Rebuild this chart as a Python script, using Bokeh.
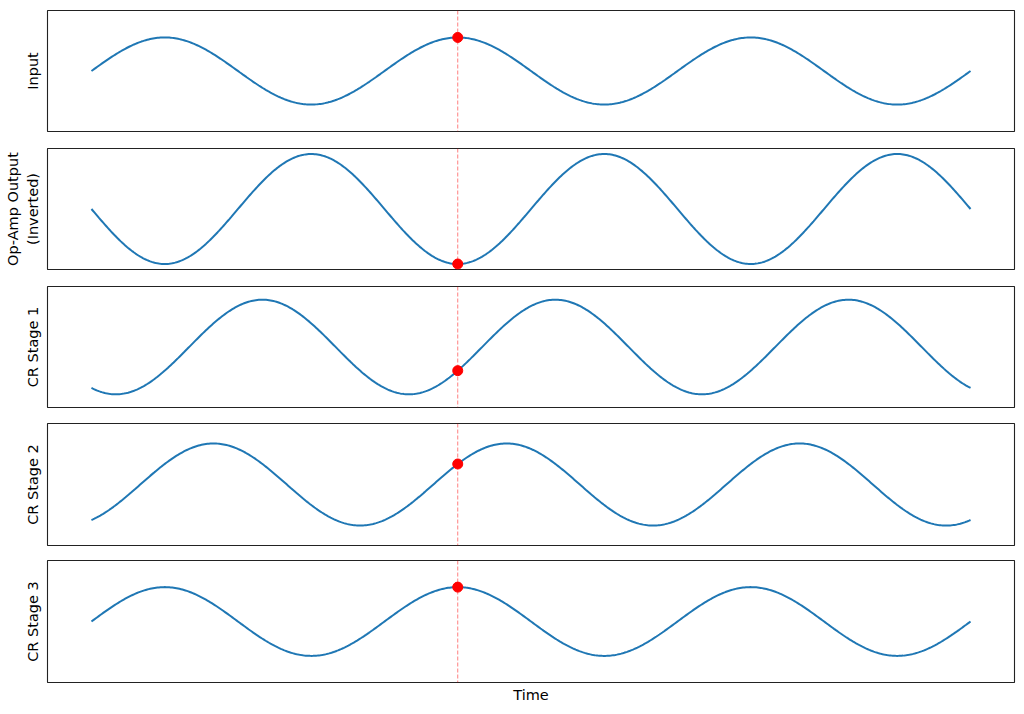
import numpy as np
from bokeh.plotting import figure
from bokeh.layouts import column
from bokeh.models import Span, Range1d, FixedTicker
from bokeh.embed import file_html
from bokeh.resources import INLINE

# Panels (top to bottom)
panel_labels = ["Input", "Op-Amp Output\n(Inverted)", "CR Stage 1", "CR Stage 2", "CR Stage 3"]
# peak amplitude of each waveform (relative to op-amp output = 1)
amplitudes = [0.61, 1.0, 0.86, 0.74, 0.62]
# phase of each waveform in degrees (Input = 0)
phases_deg = [0, 180, 240, 300, 360]
# time axis in periods of the input signal
t_start, t_end = 0.0, 3.0
n_samples = 600
marker_time = 1.25  # dashed marker time (periods)

t = np.linspace(t_start, t_end, n_samples)

BLUE = "#1f77b4"
FONT = "DejaVu Sans"
FS = "14.5px"

# layout (border sizes in px)
fig_width = 1016
tops = [10, 9, 9, 8, 7]
frame_h = [121, 121, 121, 122, 123]
bottoms = [8, 8, 8, 8, 22]

x_pad = (t_end - t_start) * 0.05
figs = []
for i, (lab, amp, ph) in enumerate(zip(panel_labels, amplitudes, phases_deg)):
    y = amp * np.sin(2 * np.pi * t + np.deg2rad(ph))
    ym = amp * np.sin(2 * np.pi * marker_time + np.deg2rad(ph))
    h = tops[i] + frame_h[i] + bottoms[i]
    p = figure(width=fig_width, height=h, output_backend="svg", toolbar_location=None,
               x_range=Range1d(t_start - x_pad, t_end + x_pad), y_range=Range1d(-1.1, 1.1),
               min_border_left=47, min_border_right=2, min_border_top=tops[i], min_border_bottom=bottoms[i])
    p.grid.visible = False
    p.outline_line_color = "#222222"
    p.outline_line_width = 1.1
    p.outline_line_alpha = 1
    p.background_fill_color = "white"
    p.border_fill_color = "white"

    p.line(t, y, line_color=BLUE, line_width=2)
    p.add_layout(Span(location=marker_time, dimension="height", line_color="red",
                      line_alpha=0.5, line_dash="4 2", line_width=1))
    p.scatter([marker_time], [ym], size=10, color="red", line_color="red")

    ya = p.yaxis[0]
    ya.ticker = FixedTicker(ticks=[])
    ya.axis_label = lab
    ya.axis_label_text_font = FONT
    ya.axis_label_text_font_size = FS
    ya.axis_label_text_font_style = "normal"
    ya.axis_label_text_color = "black"
    ya.axis_label_standoff = 7
    ya.major_tick_line_color = None
    ya.minor_tick_line_color = None
    ya.axis_line_color = None
    ya.major_tick_out = 0
    ya.major_tick_in = 0
    ya.major_label_standoff = 0

    xa = p.xaxis[0]
    if i == len(panel_labels) - 1:
        xa.ticker = FixedTicker(ticks=[])
        xa.axis_label = "Time"
        xa.axis_label_text_font = FONT
        xa.axis_label_text_font_size = FS
        xa.axis_label_text_font_style = "normal"
        xa.axis_label_text_color = "black"
        xa.axis_label_standoff = 4
        xa.major_tick_line_color = None
        xa.minor_tick_line_color = None
        xa.axis_line_color = None
        xa.major_tick_out = 0
        xa.major_tick_in = 0
        xa.major_label_standoff = 0
    else:
        xa.visible = False
    figs.append(p)

layout = column(*figs, spacing=0)
open("out.html", "w").write(file_html(layout, INLINE))
